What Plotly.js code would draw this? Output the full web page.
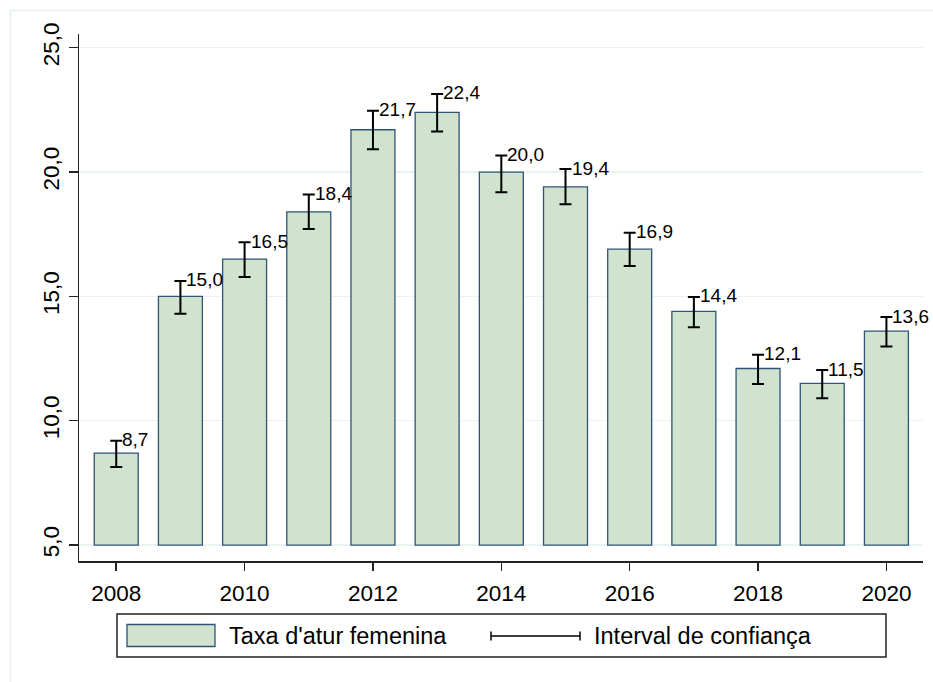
<!DOCTYPE html>
<html>
<head>
<meta charset="utf-8">
<script src="https://cdn.plot.ly/plotly-3.0.1.min.js"></script>
<style>html,body{margin:0;padding:0;background:#fff;}#chart{width:933px;height:682px;}</style>
</head>
<body>
<div id="chart"></div>
<script>
// Data
const years = [2008, 2009, 2010, 2011, 2012, 2013, 2014, 2015, 2016, 2017, 2018, 2019, 2020];
const rate = [8.7, 15.0, 16.5, 18.4, 21.7, 22.4, 20.0, 19.4, 16.9, 14.4, 12.1, 11.5, 13.6];
const ciLower = [8.14, 14.30, 15.78, 17.71, 20.92, 21.63, 19.19, 18.70, 16.22, 13.76, 11.48, 10.90, 12.98];
const ciUpper = [9.20, 15.62, 17.18, 19.10, 22.46, 23.14, 20.66, 20.12, 17.56, 14.98, 12.65, 12.04, 14.17];
const yTicks = [5, 10, 15, 20, 25];
const xTicks = [2008, 2010, 2012, 2014, 2016, 2018, 2020];
const seriesName = "Taxa d'atur femenina";
const ciName = "Interval de confiança";

const BASE = 5;
const FONT = "Liberation Sans, Arial, sans-serif";

// plot area in pixels (for custom legend placement)
const W = 933, H = 682;
const L = 79, R = 923, T = 34, B = 561;
const px = x => (x - L) / (R - L);
const py = y => (B - y) / (B - T);

const bars = {
  type: 'bar',
  x: years,
  y: rate.map(v => v - BASE),
  base: BASE,
  width: 0.685,
  marker: { color: '#cfe3cf', line: { color: '#2f5478', width: 1.3 } },
  hoverinfo: 'x+text',
  hovertext: rate.map(String),
  showlegend: false
};

const ci = {
  type: 'scatter',
  mode: 'markers',
  x: years,
  y: rate,
  marker: { size: 1, opacity: 0 },
  error_y: {
    type: 'data',
    symmetric: false,
    array: ciUpper.map((u, i) => u - rate[i]),
    arrayminus: ciLower.map((l, i) => rate[i] - l),
    color: '#000',
    thickness: 2,
    width: 6
  },
  hoverinfo: 'skip',
  showlegend: false
};

const annotations = years.map((yr, i) => ({
  x: yr, y: ciUpper[i], xref: 'x', yref: 'y',
  text: rate[i].toFixed(1).replace('.', ','),
  showarrow: false, xanchor: 'left', yanchor: 'middle',
  xshift: 4, yshift: 1,
  font: { family: FONT, size: 19, color: '#000' }
}));

// custom legend
annotations.push({
  xref: 'paper', yref: 'paper', x: px(227), y: py(636),
  text: seriesName, showarrow: false, xanchor: 'left', yanchor: 'middle',
  font: { family: FONT, size: 23.5, color: '#000' }
});
annotations.push({
  xref: 'paper', yref: 'paper', x: px(592), y: py(636),
  text: ciName, showarrow: false, xanchor: 'left', yanchor: 'middle',
  font: { family: FONT, size: 23.5, color: '#000' }
});

const shapes = [
  // outer graph region frame
  { type: 'rect', xref: 'paper', yref: 'paper', x0: px(10.5), x1: px(960), y0: py(10.5), y1: py(700),
    line: { color: '#e6eff0', width: 1.5 }, fillcolor: 'rgba(0,0,0,0)', layer: 'below' },
  // legend box
  { type: 'rect', xref: 'paper', yref: 'paper', x0: px(117), x1: px(886), y0: py(614), y1: py(657),
    line: { color: '#222', width: 1.5 }, fillcolor: '#fff' },
  // bar key
  { type: 'rect', xref: 'paper', yref: 'paper', x0: px(127), x1: px(215), y0: py(624.5), y1: py(646.5),
    line: { color: '#2f5478', width: 1.3 }, fillcolor: '#cfe3cf' },
  // CI key
  { type: 'line', xref: 'paper', yref: 'paper', x0: px(491), x1: px(580), y0: py(636), y1: py(636),
    line: { color: '#000', width: 1.5 } },
  { type: 'line', xref: 'paper', yref: 'paper', x0: px(491), x1: px(491), y0: py(631.5), y1: py(640.5),
    line: { color: '#000', width: 1.5 } },
  { type: 'line', xref: 'paper', yref: 'paper', x0: px(580), x1: px(580), y0: py(631.5), y1: py(640.5),
    line: { color: '#000', width: 1.5 } }
];

const layout = {
  width: W, height: H,
  margin: { l: L, r: W - R, t: T, b: H - B, pad: 0 },
  paper_bgcolor: '#fff',
  plot_bgcolor: '#fff',
  separators: ',.',
  font: { family: FONT, size: 22, color: '#000' },
  showlegend: false,
  bargap: 0.3,
  xaxis: {
    range: [2007.42, 2020.57],
    tickvals: xTicks,
    ticktext: xTicks.map(String),
    ticks: 'outside', ticklen: 8, tickwidth: 1.5, tickcolor: '#222',
    showline: true, linecolor: '#222', linewidth: 1.5,
    showgrid: false, zeroline: false,
    tickfont: { family: FONT, size: 22.5, color: '#000' },
    ticklabelstandoff: 3
  },
  yaxis: {
    range: [4.36, 25.55],
    tickvals: yTicks,
    tickformat: '.1f',
    tickangle: -90,
    ticks: 'outside', ticklen: 9, tickwidth: 1.5, tickcolor: '#222',
    showline: true, linecolor: '#222', linewidth: 1.5,
    showgrid: true, gridcolor: '#eaf2f3', gridwidth: 1.5,
    zeroline: false,
    tickfont: { family: FONT, size: 22.5, color: '#000' },
    ticklabelstandoff: 1
  },
  annotations: annotations,
  shapes: shapes
};

Plotly.newPlot('chart', [bars, ci], layout, { displayModeBar: false, staticPlot: true });
</script>
</body>
</html>
